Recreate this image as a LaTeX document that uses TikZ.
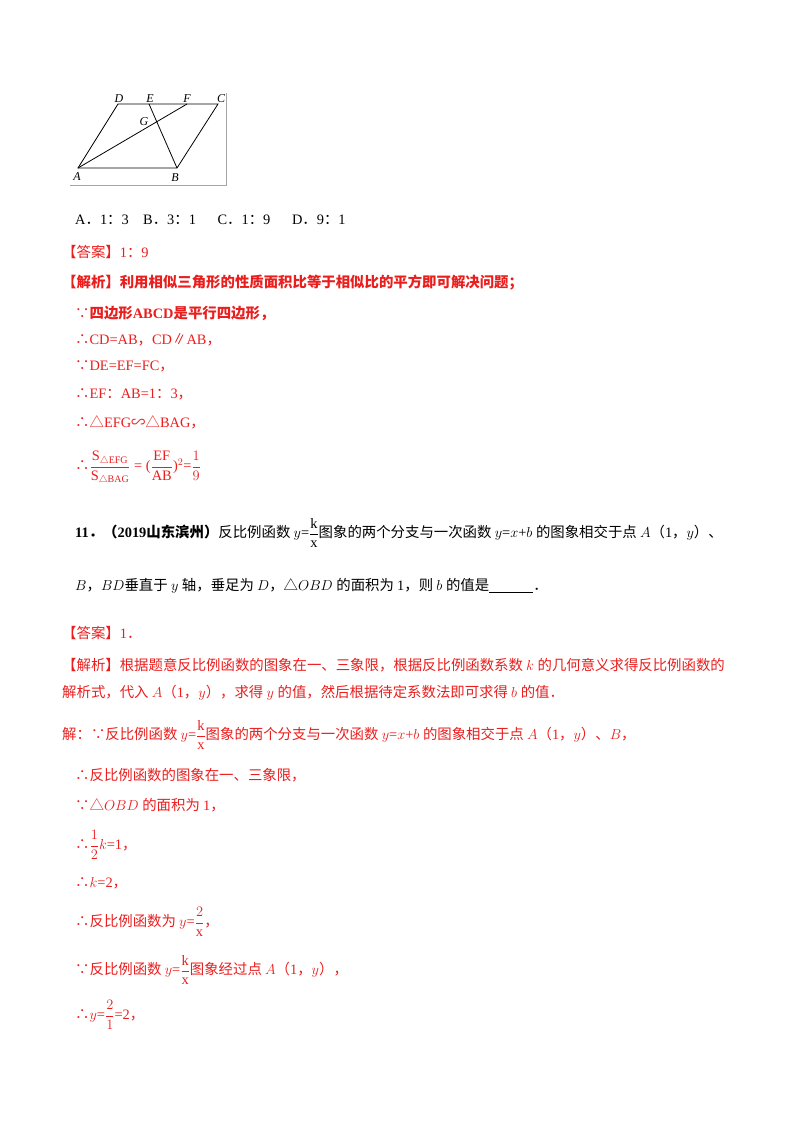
\documentclass[tikz,border=0pt]{standalone}
\usepackage{fontspec}
\setmainfont{Liberation Serif}
\newfontfamily\cjk{Noto Sans CJK SC}
\newcommand\zh[1]{{\cjk #1}}
\definecolor{rd}{RGB}{235,30,30}
\begin{document}
\begin{tikzpicture}[x=1pt,y=-1pt,
  t/.style={anchor=west,inner sep=0pt,font=\fontsize{14.4}{16}\selectfont},
  r/.style={t,text=rd},
  pt/.style={inner sep=1pt,font=\fontsize{12}{13}\selectfont\itshape}]
\useasboundingbox (0,0) rectangle (800,1132);
\fill[white] (0,0) rectangle (800,1132);
% figure
\draw[gray!70,line width=0.8pt] (226,93) -- (226,185) -- (70,185);
\coordinate (A) at (78,168); \coordinate (B) at (177,168);
\coordinate (C) at (218,104); \coordinate (D) at (118,104);
\coordinate (E) at (149,104); \coordinate (F) at (187,104);
\draw[line width=0.8pt] (A)--(B)--(C)--(D)--cycle;
\draw[line width=0.8pt] (A)--(F) (E)--(B);
\node[pt] at (119,99) {D}; \node[pt] at (150,99) {E};
\node[pt] at (187,99) {F}; \node[pt] at (221,99) {C};
\node[pt] at (144,122) {G}; \node[pt] at (77,177) {A}; \node[pt] at (175,178) {B};
% text
\node[t] (l1) at (75,220) {A\zh{．}1\zh{：}3\quad B\zh{．}3\zh{：}1\quad\ \ C\zh{．}1\zh{：}9\quad\ \ D\zh{．}9\zh{：}1};
\node[r] (l2) at (62,252) {\cjk 【答案】\rmfamily 1\zh{：}9};
\node[r] (l3) at (62,283) {\cjk\bfseries 【解析】利用相似三角形的性质面积比等于相似比的平方即可解决问题；};
\node[r] (l4) at (75,313) {\zh{∵}\cjk\bfseries 四边形\rmfamily ABCD\cjk 是平行四边形，};
\node[r] (l5) at (75,340) {\zh{∴}CD=AB\zh{，}CD\zh{∥}AB\zh{，}};
\node[r] (l6) at (75,366) {\zh{∵}DE=EF=FC\zh{，}};
\node[r] (l7) at (75,394) {\zh{∴}EF\zh{：}AB=1\zh{：}3\zh{，}};
\node[r] (l8) at (75,422) {\zh{∴△}EFG\zh{∽△}BAG\zh{，}};
\node[r] (l9) at (75,468) {\zh{∴}$\displaystyle\frac{\mathrm{S}_{\triangle\mathrm{EFG}}}{\mathrm{S}_{\triangle\mathrm{BAG}}}$ = ($\displaystyle\frac{\mathrm{EF}}{\mathrm{AB}}$)${}^{2}$=$\displaystyle\frac{1}{9}$};
\node[t] (q1) at (75,533) {\textbf{11\zh{．}}\cjk\bfseries （\rmfamily 2019\cjk 山东滨州）\mdseries 反比例函数\ \rmfamily$y$=$\displaystyle\frac{\mathrm{k}}{\mathrm{x}}$\cjk 图象的两个分支与一次函数\ \rmfamily$y$=$x$+$b$\ \cjk 的图象相交于点\ \rmfamily$A$\zh{（}1\zh{，}$y$\zh{）、}};
\node[t] (q2) at (75,586) {$B$\zh{，}$BD$\cjk 垂直于\ \rmfamily$y$\ \cjk 轴，垂足为\ \rmfamily$D$\zh{，△}$OBD$\ \cjk 的面积为\ \rmfamily 1\zh{，}\cjk 则\ \rmfamily$b$\ \cjk 的值是\rmfamily\underline{\hspace{44pt}}\zh{．}};
\node[r] (a1) at (62,633) {\cjk 【答案】\rmfamily 1\zh{．}};
\node[r] (a2) at (62,665) {\cjk 【解析】根据题意反比例函数的图象在一、三象限，根据反比例函数系数\ \rmfamily$k$\ \cjk 的几何意义求得反比例函数的};
\node[r] (a3) at (62,693) {\cjk 解析式，代入\ \rmfamily$A$\zh{（}1\zh{，}$y$\zh{），}\cjk 求得\ \rmfamily$y$\ \cjk 的值，然后根据待定系数法即可求得\ \rmfamily$b$\ \cjk 的值．};
\node[r] (a4) at (62,735) {\cjk 解：∵反比例函数\ \rmfamily$y$=$\displaystyle\frac{\mathrm{k}}{\mathrm{x}}$\cjk 图象的两个分支与一次函数\ \rmfamily$y$=$x$+$b$\ \cjk 的图象相交于点\ \rmfamily$A$\zh{（}1\zh{，}$y$\zh{）、}$B$\zh{，}};
\node[r] (a5) at (75,775) {\cjk ∴反比例函数的图象在一、三象限，};
\node[r] (a6) at (75,805) {\zh{∵△}$OBD$\ \cjk 的面积为\ \rmfamily 1\zh{，}};
\node[r] (a7) at (75,845) {\zh{∴}$\displaystyle\frac{1}{2}k$=1\zh{，}};
\node[r] (a8) at (75,883) {\zh{∴}$k$=2\zh{，}};
\node[r] (a9) at (75,922) {\cjk ∴反比例函数为\ \rmfamily$y$=$\displaystyle\frac{2}{\mathrm{x}}$\zh{，}};
\node[r] (a10) at (75,970) {\cjk ∵反比例函数\ \rmfamily$y$=$\displaystyle\frac{\mathrm{k}}{\mathrm{x}}$\cjk 图象经过点\ \rmfamily$A$\zh{（}1\zh{，}$y$\zh{），}};
\node[r] (a11) at (75,1015) {\zh{∴}$y$=$\displaystyle\frac{2}{1}$=2\zh{，}};
\end{tikzpicture}
\end{document}
